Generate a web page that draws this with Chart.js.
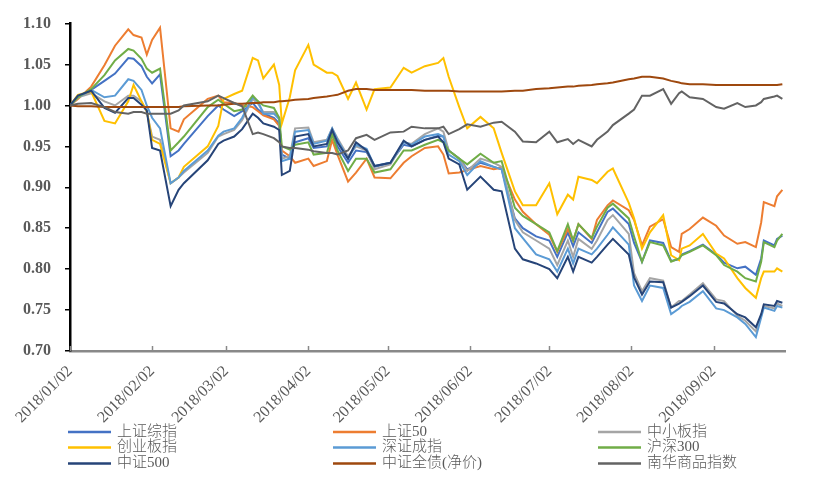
<!DOCTYPE html>
<html lang="zh-CN">
<head>
<meta charset="utf-8">
<title>2018年主要指数走势</title>
<script src="https://cdn.jsdelivr.net/npm/chart.js@4.4.1/dist/chart.umd.min.js"></script>
<style>
    html, body { margin: 0; padding: 0; background: #fff; }
    #wrap { width: 821px; height: 477px; }
</style>
</head>
<body>
<div id="wrap"><canvas id="indexChart" width="821" height="477"></canvas></div>
<script>
// ========================================
// DATA (normalised, 2018/01/02 = 1)
// ========================================
const dates = [
    '2018/01/02','2018/01/05','2018/01/10','2018/01/15','2018/01/19','2018/01/24','2018/01/26','2018/01/29','2018/01/31','2018/02/02',
    '2018/02/05','2018/02/09','2018/02/12','2018/02/14','2018/02/23','2018/02/27','2018/03/01','2018/03/05','2018/03/08','2018/03/12',
    '2018/03/14','2018/03/16','2018/03/20','2018/03/22','2018/03/23','2018/03/26','2018/03/28','2018/04/02','2018/04/04','2018/04/09',
    '2018/04/11','2018/04/13','2018/04/17','2018/04/20','2018/04/24','2018/04/27','2018/05/03','2018/05/08','2018/05/11','2018/05/16',
    '2018/05/21','2018/05/23','2018/05/25','2018/05/29','2018/06/01','2018/06/06','2018/06/11','2018/06/14','2018/06/19','2018/06/22',
    '2018/06/27','2018/07/02','2018/07/05','2018/07/09','2018/07/11','2018/07/13','2018/07/18','2018/07/20','2018/07/24','2018/07/26',
    '2018/08/01','2018/08/03','2018/08/06','2018/08/09','2018/08/14','2018/08/17','2018/08/20','2018/08/21','2018/08/24','2018/08/29',
    '2018/09/03','2018/09/06','2018/09/11','2018/09/14','2018/09/18','2018/09/20','2018/09/21','2018/09/25','2018/09/26','2018/09/28'
];

const tickDates = ['2018/01/02','2018/02/02','2018/03/02','2018/04/02','2018/05/02','2018/06/02','2018/07/02','2018/08/02','2018/09/02'];
const yTicks = [0.70, 0.75, 0.80, 0.85, 0.90, 0.95, 1.00, 1.05, 1.10];

const seriesNames = ['上证综指', '上证50', '中小板指', '创业板指', '深证成指', '沪深300', '中证500', '中证全债(净价)', '南华商品指数'];

const shComposite = [
    1.000,1.010,1.019,1.030,1.039,1.058,1.057,1.048,1.035,1.027,
    1.038,0.938,0.945,0.953,0.987,1.000,0.995,0.987,0.993,1.003,
    0.995,0.990,0.985,0.978,0.940,0.935,0.955,0.960,0.948,0.950,
    0.965,0.950,0.930,0.945,0.943,0.925,0.930,0.952,0.950,0.958,
    0.963,0.962,0.945,0.935,0.922,0.930,0.925,0.922,0.862,0.850,
    0.840,0.835,0.815,0.845,0.828,0.845,0.832,0.845,0.870,0.874,
    0.855,0.832,0.809,0.835,0.832,0.810,0.812,0.818,0.822,0.830,
    0.818,0.808,0.801,0.803,0.793,0.813,0.835,0.829,0.837,0.841
];
const sse50 = [
    1.000,1.008,1.023,1.049,1.073,1.093,1.086,1.083,1.062,1.080,
    1.095,0.972,0.968,0.983,1.008,1.012,1.004,1.003,1.000,0.998,
    0.993,0.988,0.983,0.975,0.945,0.938,0.930,0.935,0.926,0.932,
    0.958,0.940,0.907,0.918,0.935,0.912,0.911,0.930,0.938,0.948,
    0.950,0.940,0.917,0.918,0.921,0.926,0.922,0.924,0.885,0.870,
    0.855,0.842,0.821,0.849,0.835,0.855,0.837,0.860,0.878,0.884,
    0.872,0.860,0.829,0.852,0.861,0.827,0.821,0.843,0.849,0.863,
    0.853,0.841,0.831,0.833,0.827,0.857,0.882,0.877,0.889,0.897
];
const smeBoard = [
    1.000,1.010,1.015,1.005,1.000,1.012,1.012,1.005,0.992,0.962,
    0.958,0.905,0.912,0.918,0.942,0.962,0.965,0.970,0.982,1.008,
    1.002,0.992,0.992,0.985,0.935,0.938,0.972,0.973,0.955,0.958,
    0.972,0.960,0.938,0.950,0.945,0.922,0.928,0.955,0.953,0.965,
    0.972,0.968,0.945,0.935,0.920,0.935,0.930,0.925,0.860,0.845,
    0.835,0.825,0.805,0.835,0.815,0.837,0.825,0.835,0.860,0.866,
    0.843,0.795,0.773,0.789,0.786,0.753,0.761,0.761,0.769,0.783,
    0.763,0.761,0.743,0.737,0.724,0.743,0.755,0.752,0.758,0.755
];
const chiNext = [
    1.000,1.013,1.017,0.981,0.978,1.005,1.025,1.005,0.993,0.958,
    0.953,0.905,0.912,0.925,0.950,0.975,1.008,1.014,1.018,1.058,
    1.055,1.033,1.050,1.025,0.978,1.010,1.043,1.074,1.050,1.040,
    1.040,1.036,1.008,1.028,0.995,1.020,1.022,1.046,1.040,1.048,
    1.052,1.058,1.035,0.998,0.972,0.986,0.972,0.942,0.895,0.878,
    0.878,0.905,0.867,0.891,0.885,0.913,0.909,0.905,0.919,0.923,
    0.881,0.862,0.825,0.845,0.866,0.817,0.811,0.825,0.829,0.843,
    0.819,0.813,0.789,0.777,0.765,0.789,0.797,0.797,0.801,0.797
];
const szComponent = [
    1.000,1.010,1.019,1.010,1.012,1.032,1.030,1.019,1.000,0.985,
    0.972,0.905,0.912,0.920,0.945,0.963,0.968,0.972,0.985,1.010,
    1.005,0.990,0.990,0.983,0.932,0.935,0.968,0.970,0.953,0.957,
    0.972,0.958,0.935,0.952,0.947,0.926,0.930,0.955,0.952,0.962,
    0.965,0.962,0.940,0.932,0.915,0.932,0.925,0.922,0.850,0.838,
    0.818,0.812,0.797,0.825,0.807,0.825,0.818,0.825,0.842,0.851,
    0.830,0.780,0.761,0.780,0.777,0.745,0.752,0.755,0.760,0.773,
    0.752,0.750,0.741,0.733,0.717,0.741,0.753,0.749,0.755,0.753
];
const csi300 = [
    1.000,1.010,1.020,1.037,1.055,1.069,1.067,1.057,1.045,1.040,
    1.045,0.945,0.955,0.962,0.998,1.007,1.002,0.993,0.995,1.012,
    1.005,1.000,0.997,0.985,0.950,0.946,0.952,0.955,0.940,0.942,
    0.965,0.945,0.920,0.935,0.935,0.918,0.922,0.945,0.945,0.952,
    0.958,0.955,0.945,0.935,0.928,0.941,0.930,0.932,0.875,0.865,
    0.855,0.845,0.822,0.855,0.835,0.855,0.838,0.852,0.875,0.880,
    0.862,0.840,0.809,0.833,0.829,0.809,0.813,0.817,0.821,0.829,
    0.817,0.805,0.797,0.789,0.785,0.809,0.833,0.827,0.835,0.843
];
const csi500 = [
    1.000,1.012,1.018,0.997,0.991,1.009,1.009,1.001,0.994,0.948,
    0.945,0.877,0.897,0.905,0.933,0.953,0.957,0.962,0.971,0.990,
    0.985,0.978,0.974,0.970,0.915,0.920,0.962,0.965,0.950,0.953,
    0.970,0.955,0.935,0.955,0.945,0.926,0.930,0.957,0.950,0.958,
    0.962,0.955,0.935,0.928,0.897,0.913,0.897,0.895,0.825,0.812,
    0.807,0.800,0.789,0.815,0.797,0.815,0.808,0.815,0.830,0.837,
    0.818,0.790,0.769,0.785,0.784,0.753,0.758,0.760,0.767,0.780,
    0.760,0.758,0.745,0.741,0.729,0.745,0.757,0.755,0.761,0.759
];
const bondIndex = [
    1.000,0.999,0.999,0.998,0.998,0.998,0.998,0.998,0.998,0.998,
    0.998,0.998,0.998,0.999,1.000,1.000,1.001,1.002,1.002,1.003,
    1.003,1.004,1.004,1.005,1.005,1.006,1.007,1.008,1.009,1.011,
    1.012,1.013,1.018,1.020,1.020,1.019,1.019,1.019,1.019,1.018,
    1.018,1.018,1.018,1.017,1.017,1.017,1.017,1.017,1.018,1.018,
    1.020,1.021,1.022,1.023,1.023,1.024,1.025,1.026,1.027,1.028,
    1.032,1.033,1.035,1.035,1.033,1.030,1.028,1.027,1.026,1.026,
    1.025,1.025,1.025,1.025,1.025,1.025,1.025,1.025,1.025,1.026
];
const nanhuaCommodity = [
    1.000,1.002,1.003,0.998,0.992,0.990,0.992,0.992,0.990,0.990,
    0.990,0.990,0.994,1.000,1.005,1.012,1.009,1.003,0.999,0.965,
    0.967,0.965,0.960,0.955,0.950,0.948,0.948,0.946,0.944,0.942,
    0.942,0.940,0.945,0.960,0.964,0.958,0.967,0.968,0.974,0.972,
    0.972,0.974,0.965,0.971,0.977,0.974,0.979,0.980,0.968,0.956,
    0.955,0.968,0.955,0.959,0.953,0.958,0.950,0.958,0.968,0.976,
    0.990,0.995,1.012,1.012,1.020,1.002,1.015,1.017,1.010,1.008,
    0.998,0.996,1.003,0.998,1.000,1.004,1.008,1.011,1.012,1.008
];

const seriesValues = [shComposite, sse50, smeBoard, chiNext, szComponent, csi300, csi500, bondIndex, nanhuaCommodity];
const seriesColors = ['#4472C4', '#ED7D31', '#A5A5A5', '#FFC000', '#5B9BD5', '#70AD47', '#264478', '#9E480E', '#636363'];

// ========================================
// HELPERS
// ========================================
const DAY_MS = 86400000;
const START = Date.UTC(2018, 0, 2);

function dayOf(str) {
    const parts = str.split('/').map(Number);
    return Math.round((Date.UTC(parts[0], parts[1] - 1, parts[2]) - START) / DAY_MS);
}

const tickDays = tickDates.map(dayOf);
const LABEL_FONT = '"Liberation Serif", "Noto Sans CJK SC", serif';

// ========================================
// PLUGINS
// ========================================
// Excel style x tick marks pointing up into the plot
const innerTicksPlugin = {
    id: 'innerTicks',
    afterDraw(chart) {
        const ctx = chart.ctx;
        const xScale = chart.scales.x;
        const bottom = chart.chartArea.bottom;
        ctx.save();
        ctx.strokeStyle = '#898989';
        ctx.lineWidth = 1.5;
        tickDays.forEach(function (d) {
            const px = Math.round(xScale.getPixelForValue(d)) + 0.5;
            ctx.beginPath();
            ctx.moveTo(px, bottom);
            ctx.lineTo(px, bottom - 5);
            ctx.stroke();
        });
        ctx.restore();
    }
};

// Legend laid out as a 3 column grid under the axis
const gridLegendPlugin = {
    id: 'gridLegend',
    afterDraw(chart) {
        const ctx = chart.ctx;
        const colX = [68, 333, 598];
        const rowY = [432, 447.5, 463.5];
        ctx.save();
        ctx.font = '300 15px ' + LABEL_FONT;
        ctx.textBaseline = 'middle';
        ctx.fillStyle = '#595959';
        chart.data.datasets.forEach(function (ds, i) {
            const x = colX[i % 3];
            const y = rowY[Math.floor(i / 3)];
            ctx.strokeStyle = ds.borderColor;
            ctx.lineWidth = 2.5;
            ctx.beginPath();
            ctx.moveTo(x, y);
            ctx.lineTo(x + 43, y);
            ctx.stroke();
            ctx.fillText(ds.label, x + 49, y);
        });
        ctx.restore();
    }
};

// ========================================
// CHART
// ========================================
function initializeIndexChart() {
    const chartElement = document.getElementById('indexChart');
    if (!chartElement) return;

    const datasets = seriesValues.map(function (values, i) {
        return {
            label: seriesNames[i],
            data: values.map(function (v, k) { return { x: dayOf(dates[k]), y: v }; }),
            borderColor: seriesColors[i],
            backgroundColor: seriesColors[i],
            borderWidth: 2,
            pointRadius: 0,
            tension: 0,
            fill: false,
            order: seriesValues.length - i
        };
    });

    new Chart(chartElement, {
        type: 'line',
        data: { datasets: datasets },
        options: {
            responsive: false,
            animation: false,
            events: [],
            layout: { padding: { left: 0, right: 36, top: 18, bottom: 0 } },
            plugins: {
                legend: { display: false },
                tooltip: { enabled: false }
            },
            scales: {
                x: {
                    type: 'linear',
                    min: 0,
                    max: 270,
                    afterBuildTicks: function (scale) {
                        scale.ticks = tickDays.map(function (d) { return { value: d }; });
                    },
                    afterFit: function (scale) { scale.height = 126; },
                    grid: { display: false, drawTicks: false },
                    border: { display: true, color: '#898989', width: 2.5 },
                    ticks: {
                        autoSkip: false,
                        minRotation: 45,
                        maxRotation: 45,
                        padding: 11,
                        color: '#595959',
                        font: { family: LABEL_FONT, size: 16 },
                        callback: function (value) {
                            const idx = tickDays.indexOf(value);
                            return idx >= 0 ? tickDates[idx] : '';
                        }
                    }
                },
                y: {
                    min: 0.70,
                    max: 1.10,
                    afterBuildTicks: function (scale) {
                        scale.ticks = yTicks.map(function (v) { return { value: v }; });
                    },
                    afterFit: function (scale) { scale.width = 70; },
                    grid: { drawOnChartArea: false, drawTicks: true, tickLength: 5, color: '#000', lineWidth: 1.5 },
                    border: { display: true, color: '#000', width: 2.5 },
                    ticks: {
                        padding: 14,
                        color: '#595959',
                        font: { family: LABEL_FONT, size: 16, weight: 'bold' },
                        callback: function (value) { return Number(value).toFixed(2); }
                    }
                }
            }
        },
        plugins: [innerTicksPlugin, gridLegendPlugin]
    });
}

document.addEventListener('DOMContentLoaded', function () {
    initializeIndexChart();
});
</script>
</body>
</html>
